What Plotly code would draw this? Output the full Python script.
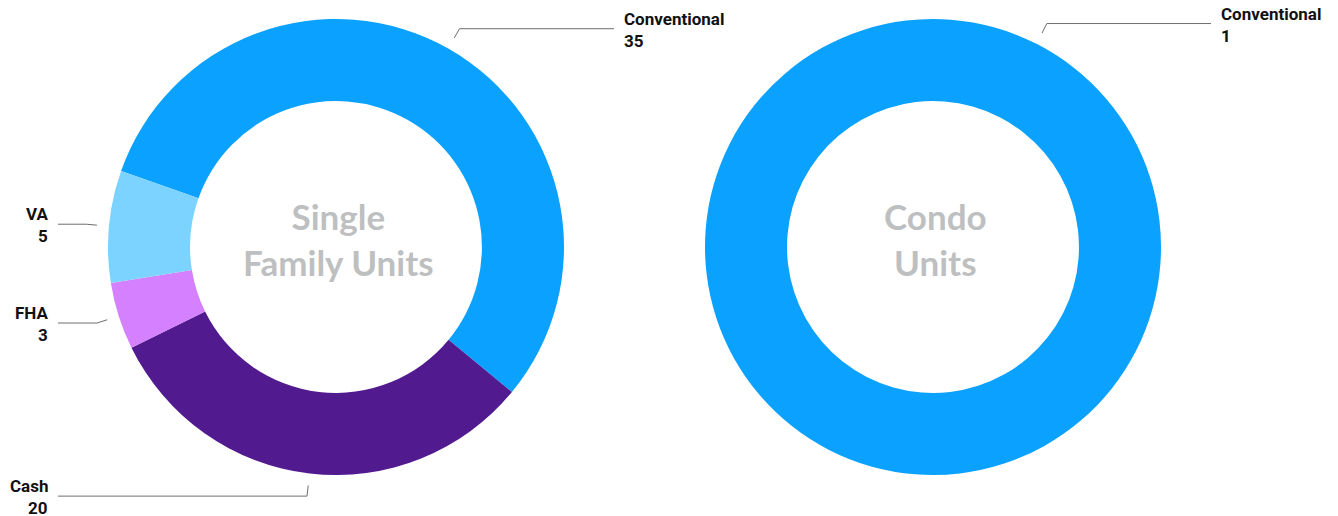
import math
import plotly.graph_objects as go

# ---- data ----
sf_labels = ["Conventional", "Cash", "FHA", "VA"]
sf_values = [35, 20, 3, 5]
sf_colors = ["#0AA1FF", "#521A8F", "#D580FF", "#7DD3FF"]

condo_labels = ["Conventional"]
condo_values = [1]
condo_colors = ["#0AA1FF"]

center_titles = ["Single<br>Family Units", "Condo<br>Units"]

# ---- layout constants (pixels) ----
W, H = 1338, 516
R = 228
CY = 247
CXS = [336, 933]
ROTATIONS = [-70.5, -153]
HOLE = 0.64


def px(x):
    return x / W


def py(y):
    return 1 - y / H


fig = go.Figure()
shapes = []
annotations = []

pies = [
    (sf_labels, sf_values, sf_colors),
    (condo_labels, condo_values, condo_colors),
]

LABEL_FONT = dict(family="Roboto, sans-serif", size=17, color="#111111", weight="bold")

for i, (labels, values, colors) in enumerate(pies):
    cx = CXS[i]
    fig.add_trace(go.Pie(
        labels=labels, values=values,
        marker=dict(colors=colors, line=dict(width=0)),
        hole=HOLE, sort=False, direction="clockwise",
        rotation=ROTATIONS[i], textinfo="none",
        hoverinfo="label+value",
        domain=dict(x=[px(cx - R), px(cx + R)],
                    y=[py(CY + R), py(CY - R)]),
        showlegend=False,
    ))
    # center title
    annotations.append(dict(
        x=px(cx + 2), y=py(CY - 8), xref="paper", yref="paper",
        text=center_titles[i], showarrow=False,
        xanchor="center", yanchor="middle", align="center",
        font=dict(family="Lato, Roboto, sans-serif",
                  size=35, color="#BEBFC1", weight="bold"),
    ))
    # leader lines and labels
    total = sum(values)
    start = ROTATIONS[i]
    for lab, v in zip(labels, values):
        span = 360.0 * v / total
        mid = math.radians(start + span / 2)
        start += span
        s, c = math.sin(mid), math.cos(mid)
        ax, ay = cx + 1.053 * R * s, CY - 1.053 * R * c
        bx, by = cx + 1.1 * R * s, CY - 1.1 * R * c
        right = s >= 0
        ex = cx + (R + 50) if right else cx - (R + 50)
        shapes.append(dict(
            type="path", xref="paper", yref="paper",
            path=f"M {px(ax)},{py(ay)} L {px(bx)},{py(by)} L {px(ex)},{py(by)}",
            line=dict(color="#6E6E6E", width=1),
        ))
        tx = ex + 8 if right else ex - 8
        anchor = "left" if right else "right"
        annotations.append(dict(
            x=px(tx), y=py(by), xref="paper", yref="paper",
            text=lab, showarrow=False, xanchor=anchor, yanchor="middle",
            align=anchor, yshift=10, font=LABEL_FONT,
        ))
        annotations.append(dict(
            x=px(tx), y=py(by), xref="paper", yref="paper",
            text=str(v), showarrow=False, xanchor=anchor, yanchor="middle",
            align=anchor, yshift=-12, font=LABEL_FONT,
        ))

fig.update_layout(
    width=W, height=H,
    margin=dict(l=0, r=0, t=0, b=0),
    paper_bgcolor="white", plot_bgcolor="white",
    shapes=shapes, annotations=annotations,
)

fig.write_html(
    "out.html",
    config={"displayModeBar": False},
    post_script="document.body.style.margin='0';document.body.style.overflow='hidden';",
)
